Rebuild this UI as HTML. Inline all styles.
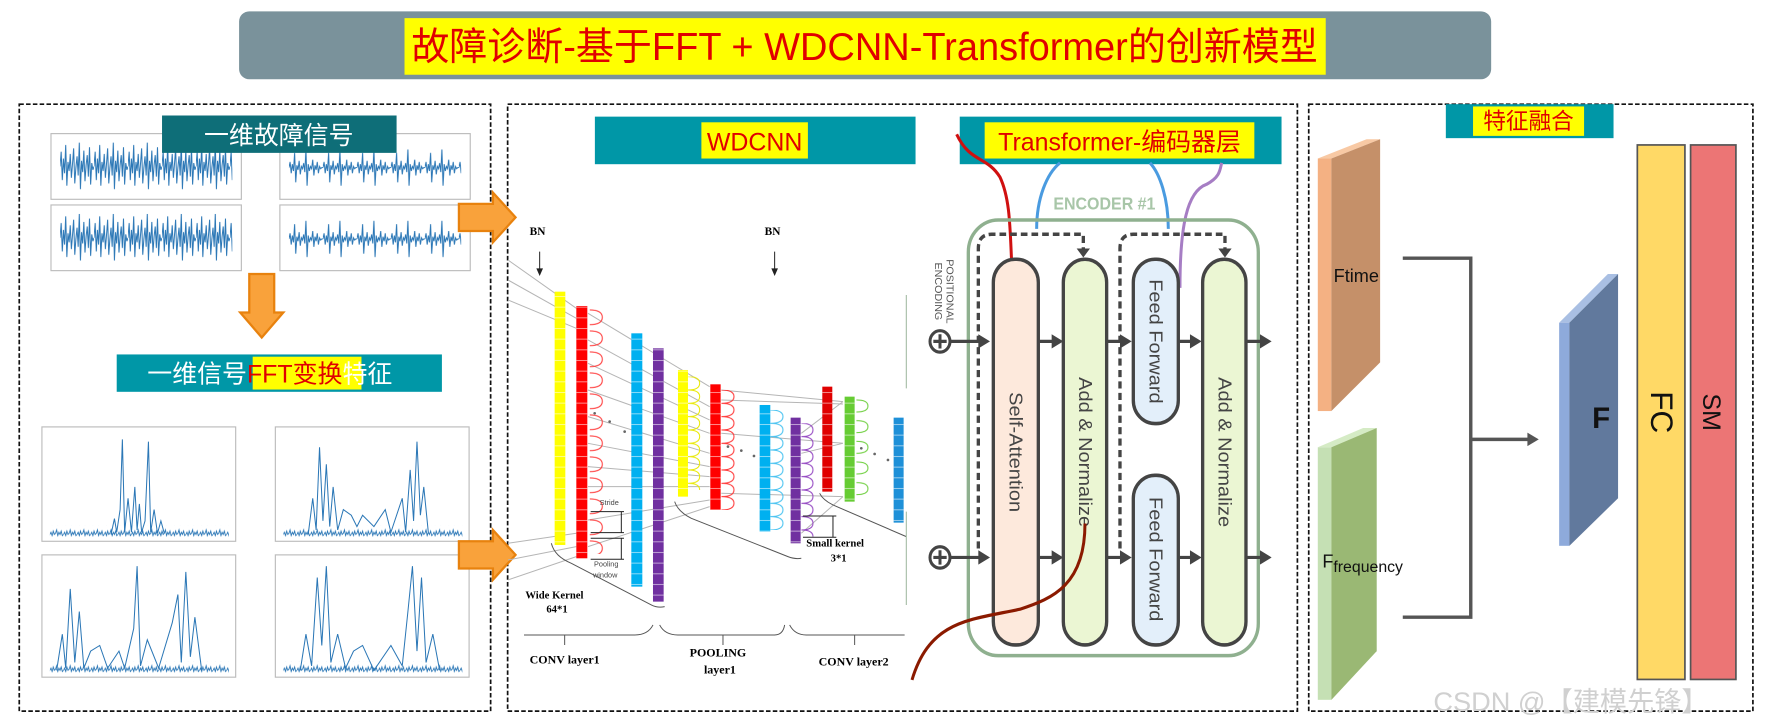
<!DOCTYPE html>
<html><head><meta charset="utf-8"><style>
html,body{margin:0;padding:0;background:#fff;}
svg{display:block;}
.cn{font-family:"Liberation Sans","Noto Sans CJK SC",sans-serif;}
.sr{font-family:"Liberation Serif",serif;font-weight:bold;}
</style></head><body>
<svg width="1771" height="727" viewBox="0 0 1771 727" xmlns="http://www.w3.org/2000/svg">
<defs>
<pattern id="cell" width="10" height="32" patternUnits="userSpaceOnUse"><rect width="10" height="3" fill="#fff" fill-opacity="0.55"/></pattern>
<pattern id="lr" width="60" height="63" patternUnits="userSpaceOnUse"><path d="M0,8 q38,0 38,22 q0,22 -38,22" fill="none" stroke="#ff3030" stroke-width="3"/></pattern>
<pattern id="ly" width="60" height="40" patternUnits="userSpaceOnUse"><path d="M0,0 q35,0 35,20 q0,20 -35,20" fill="none" stroke="#e8e800" stroke-width="3"/></pattern>
<pattern id="lr2" width="60" height="40" patternUnits="userSpaceOnUse"><path d="M0,0 q38,0 38,20 q0,20 -38,20" fill="none" stroke="#ff3030" stroke-width="3"/></pattern>
<pattern id="lb" width="60" height="40" patternUnits="userSpaceOnUse"><path d="M0,0 q38,0 38,20 q0,20 -38,20" fill="none" stroke="#40c0f0" stroke-width="3"/></pattern>
<pattern id="lp" width="60" height="40" patternUnits="userSpaceOnUse"><path d="M0,0 q35,0 35,20 q0,20 -35,20" fill="none" stroke="#9040c0" stroke-width="3"/></pattern>
<pattern id="lg" width="60" height="62" patternUnits="userSpaceOnUse"><path d="M0,10 q35,0 35,18 q0,18 -35,18" fill="none" stroke="#66cc33" stroke-width="3"/></pattern>
<pattern id="sg" width="30" height="50" patternUnits="userSpaceOnUse"><polyline points="0,25 1,12 2,37 3,18 4,31 5,6 6,42 7,21 8,29 9,14 10,35 11,23 12,9 13,40 14,26 15,16 16,33 17,4 18,45 19,20 20,30 21,11 22,38 23,24 24,15 25,34 26,8 27,41 28,22 29,28 30,25" fill="none" stroke="#2b77b6" stroke-width="0.9"/></pattern>
<pattern id="sg2" width="30" height="50" patternUnits="userSpaceOnUse"><polyline points="0,25 1,20 2,30 3,22 4,28 5,12 6,38 7,23 8,27 9,19 10,31 11,24 12,26 13,21 14,29 15,9 16,41 17,22 18,28 19,24 20,26 21,18 22,32 23,23 24,27 25,20 26,30 27,24 28,26 29,25 30,25" fill="none" stroke="#2b77b6" stroke-width="0.9"/></pattern>
<pattern id="nz" width="12" height="10" patternUnits="userSpaceOnUse"><polyline points="0,8 1,6 2,9 3,5 4,8 5,7 6,4 7,9 8,6 9,8 10,5 11,9 12,8" fill="none" stroke="#2b77b6" stroke-width="0.8"/></pattern>
</defs>
<g transform="scale(1.1331,1.1324)">
 <rect x="211" y="10" width="1105" height="60" rx="9" fill="#7a929b"/>
 <rect x="357" y="16" width="813" height="50" fill="#ffff00"/>
 <text x="763" y="53" text-anchor="middle" class="cn" font-size="34" fill="#e00000" textLength="800" lengthAdjust="spacingAndGlyphs">故障诊断-基于FFT + WDCNN-Transformer的创新模型</text>
 <g fill="none" stroke="#111" stroke-width="1.5" stroke-dasharray="4 2">
  <rect x="17" y="92" width="416" height="536"/>
  <rect x="448" y="92" width="697" height="536"/>
  <rect x="1155" y="92" width="392" height="536"/>
 </g>
 <g stroke="#bbb" stroke-width="1">
  <rect x="45" y="118" width="168" height="58" fill="#fff"/>
  <rect x="247" y="118" width="168" height="58" fill="#fff"/>
  <rect x="45" y="181" width="168" height="58" fill="#fff"/>
  <rect x="247" y="181" width="168" height="58" fill="#fff"/>
 </g>
 <g transform="translate(53,122)"><rect width="152" height="50" fill="url(#sg)"/></g>
 <g transform="translate(255,123)"><rect width="152" height="50" fill="url(#sg2)"/></g>
 <g transform="translate(53,185)"><rect width="152" height="50" fill="url(#sg)"/></g>
 <g transform="translate(255,186)"><rect width="152" height="50" fill="url(#sg2)"/></g>
 <g stroke="#bbb" stroke-width="1" fill="#fff">
  <rect x="37" y="377" width="171" height="101"/>
  <rect x="243" y="377" width="171" height="101"/>
  <rect x="37" y="490" width="171" height="108"/>
  <rect x="243" y="490" width="171" height="108"/>
 </g>
 <g transform="translate(44,464)"><rect width="158" height="10" fill="url(#nz)"/></g>
 <g transform="translate(250,464)"><rect width="158" height="10" fill="url(#nz)"/></g>
 <g transform="translate(44,584)"><rect width="158" height="10" fill="url(#nz)"/></g>
 <g transform="translate(250,584)"><rect width="158" height="10" fill="url(#nz)"/></g>
 <g fill="none" stroke="#2b77b6" stroke-width="0.9">
  <path d="M98,472 L101,458 L103,470 L106,450 L108,388 L110,470 L113,440 L116,470 L119,430 L121,468 L123,445 L125,470 L128,460 L131,390 L133,470 L136,450 L139,471 L142,460 L145,471"/>
  <path d="M272,472 L276,440 L279,468 L282,395 L285,460 L288,410 L291,465 L294,430 L298,468 L303,450 L310,455 L315,465 L320,455 L330,465 L340,450 L345,470 L355,440 L358,470 L362,415 L365,460 L368,390 L371,455 L374,430 L378,470"/>
  <path d="M50,592 L55,560 L58,590 L62,520 L66,585 L70,540 L74,590 L80,575 L88,570 L95,590 L105,575 L110,590 L118,555 L121,500 L124,588 L130,565 L140,590 L152,550 L157,525 L160,585 L164,505 L168,580 L172,545 L178,592"/>
  <path d="M265,592 L270,560 L275,588 L280,510 L284,570 L288,500 L292,585 L298,560 L305,590 L312,575 L320,570 L330,592 L345,570 L355,588 L360,540 L364,500 L368,575 L372,510 L376,585 L382,560 L388,592"/>
 </g>
 <rect x="143" y="102" width="207" height="33" fill="#0e6e78"/>
 <text x="246" y="127" text-anchor="middle" class="cn" font-size="22" fill="#fff">一维故障信号</text>
 <path d="M220,242 h22 v34 h8 l-19,22 l-19,-22 h8z" fill="#f9a23b" stroke="#e8820e" stroke-width="2"/>
 <rect x="103" y="313" width="287" height="33" fill="#0097a7"/>
 <rect x="223" y="315" width="96" height="29" fill="#ffff00"/>
 <text x="130" y="338" class="cn" font-size="22" fill="#fff">一维信号<tspan fill="#e00000">FFT变换</tspan>特征</text>
 <path d="M405,180 h30 v-10 l20,22 l-20,22 v-10 h-30z" fill="#f9a23b" stroke="#e8820e" stroke-width="2"/>
 <path d="M405,478 h30 v-10 l20,22 l-20,22 v-10 h-30z" fill="#f9a23b" stroke="#e8820e" stroke-width="2"/>
 <rect x="525" y="103" width="283" height="42" fill="#0097a7"/>
 <rect x="619" y="108" width="94" height="32" fill="#ffff00"/>
 <text x="666" y="133" text-anchor="middle" class="cn" font-size="22" fill="#e00000">WDCNN</text>
 <rect x="847" y="103" width="284" height="42" fill="#0097a7"/>
 <rect x="869" y="108" width="238" height="32" fill="#ffff00"/>
 <text x="988" y="133" text-anchor="middle" class="cn" font-size="22" fill="#e00000">Transformer-编码器层</text>
 <rect x="1276" y="92" width="148" height="30" fill="#0097a7"/>
 <rect x="1300" y="94" width="98" height="26" fill="#ffff00"/>
 <text x="1349" y="114" text-anchor="middle" class="cn" font-size="20" fill="#e00000">特征融合</text>
 <polygon points="1163,140 1206,123 1218,123 1175,140" fill="#f8c9a4"/>
 <rect x="1163" y="140" width="12" height="223" fill="#f4b183"/>
 <polygon points="1175,140 1218,123 1218,320 1175,363" fill="#c59069"/>
 <text x="1177" y="249" class="cn" font-size="16" fill="#111">Ftime</text>
 <polygon points="1163,395 1203,378 1215,378 1175,395" fill="#d5ebc5"/>
 <rect x="1163" y="395" width="12" height="223" fill="#c5e0b4"/>
 <polygon points="1175,395 1215,378 1215,575 1175,618" fill="#9ab874"/>
 <text x="1167" y="501" class="cn" font-size="16" fill="#111">F<tspan font-size="14" dy="4">frequency</tspan></text>
 <polygon points="1376,285 1419,242 1428,242 1385,285" fill="#a9bfe3"/>
 <rect x="1376" y="285" width="9" height="197" fill="#8eaadb"/>
 <polygon points="1385,285 1428,242 1428,440 1385,482" fill="#61799d"/>
 <text x="1413" y="378" text-anchor="middle" class="cn" font-size="26" font-weight="bold" fill="#111">F</text>
 <rect x="1445" y="128" width="42" height="472" fill="#ffd966" stroke="#555" stroke-width="1.5"/>
 <text transform="translate(1457,364) rotate(90)" text-anchor="middle" class="cn" font-size="28" fill="#111">FC</text>
 <rect x="1492" y="128" width="40" height="472" fill="#ec7575" stroke="#555" stroke-width="1.5"/>
 <text transform="translate(1503,364) rotate(90)" text-anchor="middle" class="cn" font-size="22" fill="#111">SM</text>
 <path d="M1238,228 H1298 V545 H1238" fill="none" stroke="#555" stroke-width="3"/>
 <path d="M1298,388 H1350" fill="none" stroke="#555" stroke-width="3"/>
 <path d="M1348,382 L1358,388 L1348,394z" fill="#555"/>
 <text x="1265" y="628" class="cn" font-size="24" fill="#d0d0d0">CSDN @【建模先锋】</text>
</g>
<!-- CNN -->
<g transform="translate(508,200) scale(0.3333)">
 <text x="65" y="105" class="sr" font-size="34">BN</text>
 <text x="770" y="105" class="sr" font-size="34">BN</text>
 <path d="M95,155 V210 M800,155 V210" stroke="#222" stroke-width="3"/>
 <path d="M85,205 L95,228 L105,205z M790,205 L800,228 L810,205z" fill="#222"/>
 <g stroke="#b5b5b5" stroke-width="3" fill="none">
  <path d="M0,180 L205,325 M0,240 L205,355 M0,300 L205,385 M0,1030 L205,1000 M0,1080 L205,1040 M0,1140 L205,1070"/>
  <path d="M240,340 L605,560 M240,420 L605,620 M240,490 L605,660 M240,570 L605,700 M240,650 L605,760 M240,730 L605,800 M240,800 L605,830 M240,860 L605,860 M240,960 L605,900 M240,1040 L605,920"/>
  <path d="M640,570 L1005,605 M640,600 L1005,612 M640,700 L1005,730 M640,880 L1005,890 M880,700 L1005,605 M880,760 L1005,730 M880,1000 L1005,890"/>
 </g>
 <g>
  <rect x="140" y="275" width="32" height="760" fill="#ffff00"/><rect x="140" y="275" width="32" height="760" fill="url(#cell)"/>
  <rect x="205" y="318" width="33" height="757" fill="#ff0000"/><rect x="205" y="318" width="33" height="757" fill="url(#cell)"/>
  <g transform="translate(245,322)"><rect width="45" height="740" fill="url(#lr)"/></g>
  <rect x="370" y="400" width="33" height="760" fill="#00b0f0"/><rect x="370" y="400" width="33" height="760" fill="url(#cell)"/>
  <rect x="435" y="445" width="32" height="760" fill="#7030a0"/><rect x="435" y="445" width="32" height="760" fill="url(#cell)"/>
  <rect x="510" y="510" width="30" height="380" fill="#ffff00"/><rect x="510" y="510" width="30" height="380" fill="url(#cell)"/>
  <g transform="translate(540,530)"><rect width="40" height="340" fill="url(#ly)"/></g>
  <rect x="607" y="553" width="31" height="377" fill="#ff0000"/><rect x="607" y="553" width="31" height="377" fill="url(#cell)"/>
  <g transform="translate(640,570)"><rect width="42" height="360" fill="url(#lr2)"/></g>
  <rect x="755" y="615" width="32" height="380" fill="#00b0f0"/><rect x="755" y="615" width="32" height="380" fill="url(#cell)"/>
  <g transform="translate(787,630)"><rect width="42" height="360" fill="url(#lb)"/></g>
  <rect x="848" y="653" width="30" height="377" fill="#7030a0"/><rect x="848" y="653" width="30" height="377" fill="url(#cell)"/>
  <g transform="translate(880,670)"><rect width="40" height="340" fill="url(#lp)"/></g>
  <rect x="943" y="560" width="30" height="315" fill="#e00000"/><rect x="943" y="560" width="30" height="315" fill="url(#cell)"/>
  <rect x="1010" y="590" width="30" height="315" fill="#66cc33"/><rect x="1010" y="590" width="30" height="315" fill="url(#cell)"/>
  <g transform="translate(1045,590)"><rect width="40" height="310" fill="url(#lg)"/></g>
  <rect x="1157" y="653" width="30" height="315" fill="#1e90d8"/><rect x="1157" y="653" width="30" height="315" fill="url(#cell)"/>
 </g>
 <g fill="#666"><circle cx="260" cy="640" r="4"/><circle cx="305" cy="665" r="4"/><circle cx="350" cy="695" r="4"/><circle cx="660" cy="740" r="4"/><circle cx="700" cy="752" r="4"/><circle cx="738" cy="768" r="4"/><circle cx="1060" cy="745" r="4"/><circle cx="1100" cy="762" r="4"/><circle cx="1140" cy="780" r="4"/></g>
 <g fill="none" stroke="#555" stroke-width="3">
  <path d="M130,1030 q10,40 60,60 L430,1215 q20,10 40,5"/>
  <path d="M500,905 q10,30 50,50 L840,1070 q20,8 40,5"/>
  <path d="M935,880 q10,20 40,35 L1195,1010"/>
  <path d="M48,1305 H380 q40,0 55,-30 M455,1275 q15,30 55,30 H800 q25,0 30,-30 M845,1275 q15,30 50,30 H1190"/>
  <path d="M170,1305 V1335 M645,1305 V1335 M1040,1305 V1335"/>
  <path d="M248,935 H348 M248,998 H348 M248,1015 H348 M248,1078 H348 M340,935 V998 M340,1015 V1078 M885,948 H985 M885,1012 H985 M975,948 V1012" stroke="#222"/>
 </g>
 <path d="M1195,285 V565 M1195,935 V1215" stroke="#9bb59b" stroke-width="3"/>
 <text x="275" y="915" font-size="22" class="cn" fill="#444">Stride</text>
 <text x="258" y="1100" font-size="22" class="cn" fill="#444">Pooling</text>
 <text x="255" y="1132" font-size="22" class="cn" fill="#444">window</text>
 <text x="52" y="1195" class="sr" font-size="32">Wide Kernel</text>
 <text x="115" y="1238" class="sr" font-size="32">64*1</text>
 <text x="895" y="1040" class="sr" font-size="32">Small kernel</text>
 <text x="968" y="1085" class="sr" font-size="32">3*1</text>
 <text x="65" y="1390" class="sr" font-size="36">CONV layer1</text>
 <text x="545" y="1370" class="sr" font-size="36">POOLING</text>
 <text x="588" y="1420" class="sr" font-size="36">layer1</text>
 <text x="932" y="1397" class="sr" font-size="36">CONV layer2</text>
</g>
<!-- Encoder -->
<g transform="translate(920,120) scale(0.3333,0.3571)">
 <path d="M110,40 C150,120 200,100 240,160 C270,220 270,300 275,400" fill="none" stroke="#d01010" stroke-width="9"/>
 <path d="M350,305 C350,220 380,150 420,120" fill="none" stroke="#4a9be0" stroke-width="9"/>
 <path d="M745,305 C745,220 720,150 690,120" fill="none" stroke="#4a9be0" stroke-width="9"/>
 <path d="M780,470 C780,300 800,200 860,180 C900,160 900,140 905,120" fill="none" stroke="#a67dc4" stroke-width="9"/>
 <rect x="145" y="280" width="870" height="1220" rx="90" fill="none" stroke="#8fb08f" stroke-width="10"/>
 <text x="400" y="250" class="cn" font-size="48" font-weight="bold" fill="#a8c6a8">ENCODER #1</text>
 <g fill="none" stroke="#444" stroke-width="10" stroke-dasharray="20 12">
  <path d="M175,1200 V360 q0,-40 40,-40 H490 V370"/>
  <path d="M600,1200 V360 q0,-40 40,-40 H915 V370"/>
 </g>
 <path d="M470,360 L490,385 L510,360z M895,360 L915,385 L935,360z" fill="#444"/>
 <g stroke="#444" stroke-width="10">
  <rect x="220" y="390" width="135" height="1080" rx="65" fill="#fde9dc"/>
  <rect x="430" y="390" width="130" height="1080" rx="65" fill="#ebf6d3"/>
  <rect x="640" y="390" width="135" height="460" rx="65" fill="#e3effa"/>
  <rect x="640" y="995" width="135" height="475" rx="65" fill="#e3effa"/>
  <rect x="848" y="390" width="130" height="1080" rx="65" fill="#ebf6d3"/>
 </g>
 <g class="cn" font-size="56" fill="#444" text-anchor="middle">
  <text transform="translate(268,930) rotate(90)">Self-Attention</text>
  <text transform="translate(477,930) rotate(90)">Add &amp; Normalize</text>
  <text transform="translate(688,620) rotate(90)">Feed Forward</text>
  <text transform="translate(688,1230) rotate(90)">Feed Forward</text>
  <text transform="translate(895,930) rotate(90)">Add &amp; Normalize</text>
 </g>
 <text transform="translate(80,480) rotate(90)" text-anchor="middle" class="cn" font-size="30" fill="#555">POSITIONAL</text>
 <text transform="translate(45,480) rotate(90)" text-anchor="middle" class="cn" font-size="30" fill="#555">ENCODING</text>
 <g stroke="#444" stroke-width="9" fill="none">
  <circle cx="60" cy="620" r="30"/><circle cx="60" cy="1225" r="30"/>
  <path d="M40,620 H80 M60,600 V640 M40,1225 H80 M60,1205 V1245"/>
  <path d="M90,620 H180 M355,620 H400 M560,620 H605 M775,620 H815 M978,620 H1025 M90,1225 H180 M355,1225 H400 M560,1225 H605 M775,1225 H815 M978,1225 H1025"/>
 </g>
 <path d="M175,600 L210,620 L175,640z M395,600 L430,620 L395,640z M600,600 L635,620 L600,640z M810,600 L845,620 L810,640z M1020,600 L1055,620 L1020,640z M175,1205 L210,1225 L175,1245z M395,1205 L430,1225 L395,1245z M600,1205 L635,1225 L600,1245z M810,1205 L845,1225 L810,1245z M1020,1205 L1055,1225 L1020,1245z" fill="#444"/>
 <path d="M495,1130 C495,1300 400,1340 300,1370 C150,1400 30,1400 -24,1568" fill="none" stroke="#8b1a00" stroke-width="9"/>
</g>
</svg>
</body></html>
